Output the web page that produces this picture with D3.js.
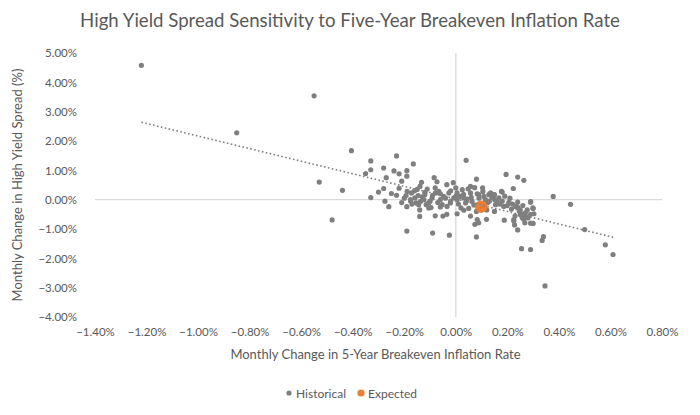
<!DOCTYPE html>
<html><head><meta charset="utf-8">
<script src="https://cdn.jsdelivr.net/npm/d3@7"></script>
<style>
body{margin:0;background:#fff;}
text{font-family:Lato,"Open Sans",sans-serif;fill:#595959;}
</style>
</head><body>
<svg id="c" width="700" height="415"></svg>
<script>
const chartTitle = "High Yield Spread Sensitivity to Five-Year Breakeven Inflation Rate";
const xTitle = "Monthly Change in 5-Year Breakeven Inflation Rate";
const yTitle = "Monthly Change in High Yield Spread (%)";
const seriesNames = ["Historical", "Expected"];
const xTicks = [-1.4,-1.2,-1.0,-0.8,-0.6,-0.4,-0.2,0,0.2,0.4,0.6,0.8];
const yTicks = [5,4,3,2,1,0,-1,-2,-3,-4];

const histX = [
-1.22,-0.85,-0.55,-0.53,-0.48,-0.44,-0.405,-0.35,-0.33,-0.33,-0.33,-0.30,-0.28,-0.28,-0.275,-0.27,-0.26,-0.25,-0.24,-0.23,
-0.22,-0.22,-0.21,-0.19,-0.19,-0.19,-0.19,-0.175,-0.165,-0.14,-0.14,-0.09,-0.08,-0.05,-0.035,-0.025,0.005,0.04,0.057,0.074,
0.08,0.089,0.119,0.08,0.195,0.24,0.264,0.223,0.18,0.15,0.378,0.445,0.29,0.30,0.277,0.29,0.258,0.264,0.268,0.30,
0.225,0.228,0.24,0.188,0.34,0.335,0.255,0.29,0.346,0.50,0.58,0.61,0.238,0.206,0.18,0.236,-0.084,-0.073,-0.035,-0.01,
0.057,0.025,0.048,0.104,0.083,-0.133,-0.139,-0.111,-0.096,0.031,-0.189,-0.172,-0.193,-0.176,-0.159,-0.154,-0.144,-0.137,-0.146,-0.12,
-0.124,-0.115,-0.105,-0.092,-0.079,-0.066,-0.06,-0.053,-0.047,-0.027,-0.021,-0.034,-0.008,0.005,0.005,0.018,0.031,0.038,0.044,0.057,
0.063,0.073,0.089,0.105,0.109,0.115,0.122,0.128,0.135,0.148,0.151,0.154,0.16,0.167,0.177,0.186,0.216,0.232,0.241,0.247,
0.251,0.258,0.271,0.29,0.299,0.303,0.29,0.225,0.083,-0.105,-0.20,-0.17,-0.16,-0.13,-0.10,-0.09,-0.07,-0.06,-0.04,-0.02,
0.00,0.01,0.03,0.06,0.07,0.09,0.11,0.13,0.14,0.17,0.19,0.20,0.21,0.22,0.24,0.26,0.27,0.25,0.23,0.28,
-0.23,-0.21,-0.12,-0.08,-0.15,-0.06,0.02,0.05,0.12,0.15,0.08,-0.02,0.00
];
const histY = [
4.58,2.28,3.54,0.60,-0.69,0.32,1.67,0.89,1.32,1.02,0.07,0.26,1.08,0.38,-0.05,0.75,-0.24,0.21,0.98,1.49,
0.88,0.39,0.63,0.99,0.80,-0.24,-1.07,-0.05,1.22,-0.57,-0.35,-1.14,-0.55,-0.56,-0.50,-1.21,-0.48,1.34,-0.56,-0.84,
-1.27,-0.79,-0.67,0.70,0.86,0.77,0.66,0.38,0.26,0.17,0.11,-0.16,-0.07,-0.30,-0.35,-0.50,-0.50,-0.67,-0.79,-0.81,
-0.73,-0.86,-1.03,-0.70,-1.26,-1.39,-1.67,-1.70,-2.94,-1.02,-1.54,-1.87,-0.24,-0.09,-0.05,-0.25,0.75,0.61,0.51,0.58,
0.45,0.34,0.37,0.40,0.20,0.59,0.45,0.36,-0.27,-0.36,0.28,0.23,0.14,0.00,0.06,-0.11,-0.17,-0.06,0.14,0.17,
0.00,-0.17,-0.11,0.06,0.23,0.28,0.00,-0.17,0.11,0.23,-0.11,-0.23,0.06,0.23,0.00,0.11,0.06,-0.11,0.02,0.23,
-0.06,0.41,0.17,0.28,0.11,0.00,-0.11,0.17,0.23,0.17,0.00,-0.17,-0.06,0.06,0.28,-0.23,-0.32,-0.23,-0.28,-0.40,
-0.51,-0.62,-0.57,-0.09,-0.28,-0.48,-0.80,-0.68,-0.68,-0.28,0.05,-0.15,0.30,0.10,-0.05,0.15,-0.10,0.20,0.05,-0.05,
0.12,-0.15,0.18,0.08,-0.18,0.05,-0.20,-0.05,0.08,-0.15,0.12,-0.20,0.05,-0.15,-0.08,-0.20,-0.45,-0.35,-0.55,-0.62,
0.15,-0.10,0.25,0.40,0.35,-0.25,-0.28,-0.30,-0.35,-0.40,-0.40,0.30,0.40
];
const expectedX = [0.098];
const expectedY = [-0.24];

(function draw() {
const svg = d3.select("#c");
const mLeft = 95, mRight = 662, mTop = 53, mBottom = 317;
const x = d3.scaleLinear().domain([-1.4, 0.8]).range([mLeft, mRight]);
const y = d3.scaleLinear().domain([-4, 5]).range([mBottom, mTop]);
const pct = d => d3.format(".2f")(d) + "%";

// title
const t = svg.append("text").attr("x", 350).attr("y", 27).attr("text-anchor", "middle")
  .style("font-size", "19px").text(chartTitle);
const tw = t.node().getComputedTextLength();
t.style("font-size", (19 * 540 / tw) + "px");

// zero axes lines
svg.append("line").attr("x1", mLeft).attr("x2", mRight).attr("y1", y(0)).attr("y2", y(0))
  .attr("stroke", "#d9d9d9").attr("stroke-width", 1.3);
svg.append("line").attr("x1", x(0)).attr("x2", x(0)).attr("y1", mTop).attr("y2", mBottom)
  .attr("stroke", "#d9d9d9").attr("stroke-width", 1.3);

// tick labels
const xa = svg.append("g").attr("transform", `translate(0,${mBottom + 8})`)
  .call(d3.axisBottom(x).tickValues(xTicks).tickFormat(pct).tickSize(0));
xa.select(".domain").remove();
xa.selectAll("text").style("font-size", "11.5px").style("font-family", "Lato,'Open Sans',sans-serif").attr("fill", "#595959");
const ya = svg.append("g").attr("transform", `translate(${mLeft - 15},0)`)
  .call(d3.axisLeft(y).tickValues(yTicks).tickFormat(pct).tickSize(0));
ya.select(".domain").remove();
ya.selectAll("text").style("font-size", "11.5px").style("font-family", "Lato,'Open Sans',sans-serif").attr("fill", "#595959");

// axis titles
svg.append("text").attr("x", (mLeft + mRight) / 2 - 3).attr("y", 359).attr("text-anchor", "middle")
  .style("font-size", "13px").text(xTitle);
svg.append("text").attr("transform", `translate(22,${(mTop + mBottom) / 2}) rotate(-90)`).attr("text-anchor", "middle")
  .style("font-size", "13px").text(yTitle);

// points
const hist = histX.map((v, i) => ({x: v, y: histY[i]}));
svg.append("g").selectAll("circle").data(hist).join("circle")
  .attr("cx", d => x(d.x)).attr("cy", d => y(d.y)).attr("r", 2.6).attr("fill", "#7f7f7f");
const exp = expectedX.map((v, i) => ({x: v, y: expectedY[i]}));
svg.append("g").selectAll("circle").data(exp).join("circle")
  .attr("cx", d => x(d.x)).attr("cy", d => y(d.y)).attr("r", 6.2).attr("fill", "#ED7D31");

// linear trendline of historical series
const mx = d3.mean(hist, d => d.x), my = d3.mean(hist, d => d.y);
const slope = d3.sum(hist, d => (d.x - mx) * (d.y - my)) / d3.sum(hist, d => (d.x - mx) ** 2);
const icpt = my - slope * mx;
const [x0, x1] = d3.extent(hist, d => d.x);
svg.append("line").attr("x1", x(x0)).attr("y1", y(icpt + slope * x0))
  .attr("x2", x(x1)).attr("y2", y(icpt + slope * x1))
  .attr("stroke", "#7f7f7f").attr("stroke-width", 1.6).attr("stroke-dasharray", "1.6,2.4");

// legend
const lg = svg.append("g").attr("transform", "translate(0,393)");
lg.append("circle").attr("cx", 289).attr("cy", 0).attr("r", 2.6).attr("fill", "#7f7f7f");
lg.append("text").attr("x", 296).attr("y", 4.5).style("font-size", "12px").text(seriesNames[0]);
lg.append("circle").attr("cx", 361).attr("cy", 0).attr("r", 3.6).attr("fill", "#ED7D31");
lg.append("text").attr("x", 368).attr("y", 4.5).style("font-size", "12px").text(seriesNames[1]);
})();
</script>
</body></html>
